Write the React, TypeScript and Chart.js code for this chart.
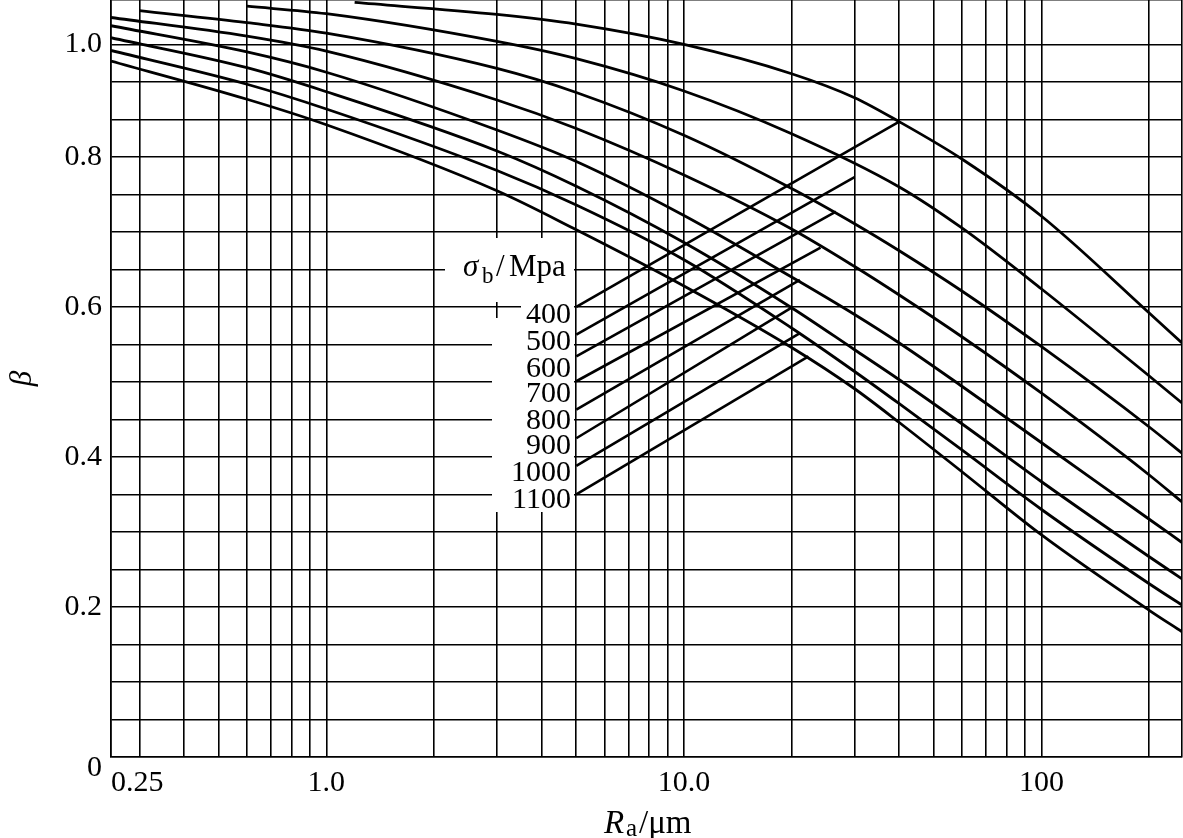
import React, { useEffect, useRef } from "react";
import { Chart, registerables } from "chart.js";

Chart.register(...registerables);

const FONT = "'Liberation Serif', 'Times New Roman', serif";

// ---- axes ----
const X_MIN = 0.25;
const X_MAX = 247;
const xGridValues = [0.25, 0.3, 0.4, 0.5, 0.6, 0.7, 0.8, 0.9, 1, 2, 3, 4, 5, 6, 7, 8, 9, 10, 20, 30, 40, 50, 60, 70, 80, 90, 100, 200, 247];
const xTickValues = [0.25, 1, 10, 100];
const xTickLabels = ["0.25", "1.0", "10.0", "100"];

const Y_MAX = 1.0093;
const yGridValues = [0, 0.05, 0.1, 0.15, 0.2, 0.25, 0.3, 0.35, 0.4, 0.45, 0.5, 0.55, 0.6, 0.65, 0.7, 0.75, 0.8, 0.85, 0.9, 0.95];
const yTickValues = [0, 0.2, 0.4, 0.6, 0.8, 0.95];
const yTickLabels = ["0", "0.2", "0.4", "0.6", "0.8", "1.0"];

// ---- series: β vs Ra for σb / MPa ----
const sigmaLabels = ["400", "500", "600", "700", "800", "900", "1000", "1100"];

const ra400 = [1.2, 3, 5, 10, 20, 30, 40, 60, 100, 200, 247];
const beta400 = [1.006, 0.99, 0.977, 0.95, 0.911, 0.879, 0.847, 0.797, 0.721, 0.592, 0.552];

const ra500 = [0.6, 1, 3, 5, 10, 20, 40, 60, 100, 200, 247];
const beta500 = [1.001, 0.991, 0.954, 0.931, 0.888, 0.831, 0.76, 0.705, 0.624, 0.508, 0.472];

const ra600 = [0.3, 0.6, 1, 3, 5, 10, 20, 30, 40, 60, 100, 200, 247];
const beta600 = [0.995, 0.979, 0.965, 0.918, 0.886, 0.829, 0.758, 0.711, 0.675, 0.621, 0.547, 0.44, 0.405];

const raFull = [0.25, 0.6, 1, 3, 5, 10, 20, 30, 40, 60, 100, 200, 247];
const beta700 = [0.986, 0.961, 0.941, 0.876, 0.838, 0.776, 0.704, 0.654, 0.616, 0.56, 0.485, 0.376, 0.34];
const beta800 = [0.975, 0.94, 0.913, 0.836, 0.794, 0.722, 0.64, 0.59, 0.552, 0.494, 0.419, 0.317, 0.286];
const beta900 = [0.959, 0.919, 0.887, 0.808, 0.761, 0.686, 0.599, 0.543, 0.503, 0.444, 0.367, 0.267, 0.2375];
const beta1000 = [0.942, 0.897, 0.864, 0.782, 0.736, 0.663, 0.572, 0.514, 0.471, 0.409, 0.33, 0.231, 0.2025];
const beta1100 = [0.928, 0.877, 0.843, 0.755, 0.703, 0.628, 0.546, 0.491, 0.446, 0.38, 0.296, 0.1956, 0.167];

// ---- leader lines from the σb labels to their curves ----
const leaderStartRa = 5;
const leaderStartBeta = [0.6, 0.563, 0.534, 0.501, 0.463, 0.425, 0.388, 0.35];
const leaderEndRa = [40, 30, 26.6, 24.1, 21.1, 20, 21.1, 22.3];
const leaderEndBeta = [0.847, 0.773, 0.727, 0.679, 0.636, 0.599, 0.565, 0.534];

const curveX = [ra400, ra500, ra600, raFull, raFull, raFull, raFull, raFull];
const curveY = [beta400, beta500, beta600, beta700, beta800, beta900, beta1000, beta1100];

const near = (a: number, b: number) => Math.abs(a - b) < 1e-6;

const zeroPad = (scale: any) => {
  scale.paddingTop = 0;
  scale.paddingBottom = 0;
  scale.paddingLeft = 0;
  scale.paddingRight = 0;
};

const annotationPlugin = {
  id: "annotations",
  afterDatasetsDraw(chart: any) {
    const { ctx } = chart;
    ctx.save();
    // white backing boxes for the label block
    ctx.fillStyle = "#fff";
    ctx.fillRect(445, 238, 129, 64);
    ctx.fillRect(521, 300, 53, 20);
    ctx.fillRect(492, 318, 82, 194);

    ctx.fillStyle = "#000";
    ctx.textBaseline = "alphabetic";
    ctx.textAlign = "left";
    // σb/Mpa
    ctx.font = `italic 31px ${FONT}`;
    ctx.fillText("σ", 463, 276);
    ctx.font = `23px ${FONT}`;
    ctx.fillText("b", 482, 283);
    ctx.font = `31px ${FONT}`;
    ctx.fillText("/", 496, 276);
    ctx.fillText("Mpa", 509, 276);

    // σb values
    ctx.font = `30px ${FONT}`;
    ctx.textAlign = "right";
    const baselines = [323, 350, 377, 402, 429, 454, 481, 508];
    sigmaLabels.forEach((s, i) => ctx.fillText(s, 571, baselines[i]));

    // x-axis title Ra/μm
    ctx.textAlign = "left";
    ctx.font = `italic 33px ${FONT}`;
    ctx.fillText("R", 604, 833);
    ctx.font = `25px ${FONT}`;
    ctx.fillText("a", 626, 836);
    ctx.font = `33px ${FONT}`;
    ctx.fillText("/μm", 639, 833);
    ctx.restore();
  },
};

export default function App() {
  const canvasRef = useRef<HTMLCanvasElement | null>(null);

  useEffect(() => {
    const canvas = canvasRef.current;
    if (!canvas) return;

    const curveSets = curveX.map((xs, i) => ({
      label: `σb=${sigmaLabels[i]}`,
      data: xs.map((xv, j) => ({ x: xv, y: curveY[i][j] })),
      borderColor: "#000",
      borderWidth: 2.8,
      pointRadius: 0,
      fill: false,
      cubicInterpolationMode: "monotone" as const,
    }));
    const leaderSets = sigmaLabels.map((s, i) => ({
      label: `leader ${s}`,
      data: [
        { x: leaderStartRa, y: leaderStartBeta[i] },
        { x: leaderEndRa[i], y: leaderEndBeta[i] },
      ],
      borderColor: "#000",
      borderWidth: 2.6,
      pointRadius: 0,
      fill: false,
      tension: 0,
    }));

    const chart = new Chart(canvas, {
      type: "line",
      data: { datasets: [...curveSets, ...leaderSets] },
      options: {
        animation: false,
        responsive: false,
        devicePixelRatio: 1,
        layout: { padding: { top: 0, right: 1, bottom: 0, left: 0 }, autoPadding: false } as any,
        plugins: {
          legend: { display: false },
          tooltip: { enabled: false },
        },
        scales: {
          x: {
            type: "logarithmic",
            min: X_MIN,
            max: X_MAX,
            afterBuildTicks: (scale: any) => {
              scale.ticks = xGridValues.map((v) => ({ value: v }));
            },
            afterFit: (scale: any) => {
              scale.height = 81;
              zeroPad(scale);
            },
            grid: { color: "#000", lineWidth: 1.6, drawTicks: false },
            border: { display: true, color: "#000", width: 1.6 },
            ticks: {
              autoSkip: false,
              maxRotation: 0,
              minRotation: 0,
              align: "inner",
              padding: 8,
              color: "#000",
              font: { family: FONT, size: 30 },
              callback: (v: any) => {
                const i = xTickValues.findIndex((t) => near(t, Number(v)));
                return i >= 0 ? xTickLabels[i] : "";
              },
            },
          },
          y: {
            type: "linear",
            min: 0,
            max: Y_MAX,
            afterBuildTicks: (scale: any) => {
              scale.ticks = [...yGridValues, Y_MAX].map((v) => ({ value: v }));
            },
            afterFit: (scale: any) => {
              scale.width = 111;
              zeroPad(scale);
            },
            grid: { color: "#000", lineWidth: 1.6, drawTicks: false },
            border: { display: true, color: "#000", width: 1.6 },
            title: {
              display: true,
              text: "β",
              color: "#000",
              font: { family: FONT, size: 31, style: "italic" },
              padding: { top: 4, bottom: 0 },
            },
            ticks: {
              autoSkip: false,
              padding: 9,
              color: "#000",
              font: (c: any) => ({
                family: FONT,
                size: 30,
                lineHeight: c.tick && near(c.tick.value, 0) ? 0.75 : 1.2,
              }),
              callback: (v: any) => {
                const i = yTickValues.findIndex((t) => near(t, Number(v)));
                if (i < 0) return "";
                return i === 0 ? ["", yTickLabels[0]] : yTickLabels[i];
              },
            },
          },
        },
      },
      plugins: [annotationPlugin],
    } as any);

    return () => chart.destroy();
  }, []);

  return (
    <div style={{ position: "absolute", left: 0, top: 0, width: 1183, height: 838, background: "#fff" }}>
      <canvas ref={canvasRef} width={1183} height={838} style={{ display: "block" }} />
    </div>
  );
}
